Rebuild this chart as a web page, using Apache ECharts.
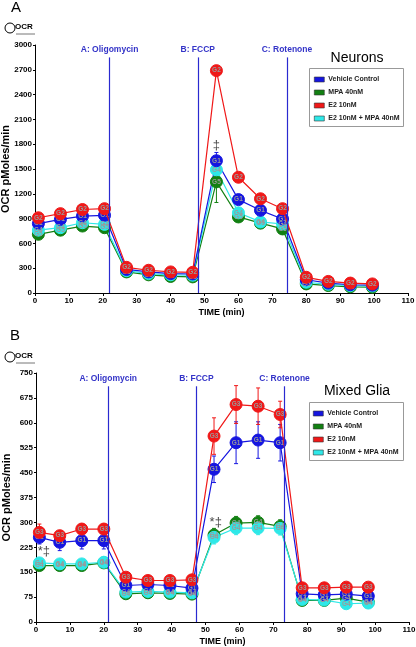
<!DOCTYPE html>
<html><head><meta charset="utf-8">
<script src="https://cdn.jsdelivr.net/npm/echarts@6/dist/echarts.min.js"></script>
<style>html,body{margin:0;padding:0;background:#fff}#c{width:416px;height:647px}</style>
</head><body><div id="c"></div>
<script>
// ---------- DATA ----------
const seriesNames = ['Vehicle Control', 'MPA 40nM', 'E2 10nM', 'E2 10nM + MPA 40nM'];
const timeA = [1, 7.5, 14, 20.5, 27, 33.5, 40, 46.5, 53.5, 60, 66.5, 73, 80, 86.5, 93, 99.5];
const timeB = [1, 7, 13.5, 20, 26.5, 33, 39.5, 46, 52.5, 59, 65.5, 72, 78.5, 85, 91.5, 98];

// Panel A (Neurons)
const vehA = [840, 890, 930, 940, 285, 255, 235, 230, 1600, 1130, 1000, 895, 160, 120, 100, 95];
const mpaA = [710, 760, 810, 790, 255, 220, 200, 195, 1345, 920, 845, 775, 110, 90, 75, 70];
const e2A = [910, 960, 1010, 1020, 310, 275, 255, 250, 2690, 1400, 1140, 1020, 190, 140, 120, 110];
const e2mpaA = [760, 790, 850, 830, 270, 235, 220, 215, 1490, 970, 860, 835, 130, 105, 90, 85];
const vehAErr = [40, 40, 30, 30, 20, 20, 20, 20, 100, 50, 40, 40, 15, 15, 15, 15];
const mpaAErr = [30, 30, 30, 30, 20, 20, 20, 20, 250, 40, 40, 60, 15, 15, 15, 15];
const e2AErr = [40, 40, 30, 30, 20, 20, 20, 20, 60, 40, 40, 30, 15, 15, 15, 15];
const e2mpaAErr = [30, 30, 30, 30, 20, 20, 20, 20, 80, 40, 40, 30, 15, 15, 15, 15];

// Panel B (Mixed Glia)
const vehB = [255, 240, 245, 245, 110, 113, 110, 102, 460, 540, 548, 540, 85, 82, 84, 78];
const mpaB = [170, 170, 170, 178, 85, 88, 86, 84, 262, 298, 300, 288, 65, 65, 72, 60];
const e2B = [270, 260, 280, 280, 135, 125, 125, 127, 560, 655, 650, 625, 103, 103, 105, 105];
const e2mpaB = [178, 175, 175, 180, 90, 92, 90, 88, 255, 283, 283, 282, 68, 66, 55, 57];
const vehBErr = [20, 25, 25, 25, 10, 10, 10, 10, 40, 63, 55, 55, 10, 10, 10, 10];
const mpaBErr = [10, 10, 10, 10, 8, 8, 8, 8, 20, 20, 20, 20, 8, 8, 8, 8];
const e2BErr = [25, 15, 15, 15, 10, 8, 8, 8, 55, 57, 55, 40, 8, 8, 8, 8];
const e2mpaBErr = [12, 12, 12, 12, 8, 8, 8, 8, 20, 20, 20, 20, 8, 8, 8, 8];

// Injection times
const injTimesA = [22, 48, 74.3];
const injTimesB = [21.3, 47.3, 73.3];
const injLabels = ['A: Oligomycin', 'B: FCCP', 'C: Rotenone'];

const xTicks = [0, 10, 20, 30, 40, 50, 60, 70, 80, 90, 100, 110];
const yTicksA = [0, 300, 600, 900, 1200, 1500, 1800, 2100, 2400, 2700, 3000];
const yTicksB = [0, 75, 150, 225, 300, 375, 450, 525, 600, 675, 750];

const annA = [[53.5, 1790, '‡']];
const annB = [[2.3, 212, '*‡'], [53, 300, '*‡']];

// ---------- STYLE ----------
const colors = ['#1515e0', '#128012', '#f01818', '#2ee8e8'];
const markerLabelA = ['G1', 'G5', 'G2', 'G4'];
const markerLabelB = ['G1', 'G4', 'G3', 'G4'];
const FONT = '"Liberation Sans", Arial, sans-serif';

const chart = echarts.init(document.getElementById('c'), null, {renderer: 'canvas'});

function lineSeries(name, times, vals, idx, panel, label) {
  return {
    type: 'line', name: name, xAxisIndex: panel, yAxisIndex: panel,
    data: times.map((t, i) => [t, vals[i]]),
    symbol: 'circle', symbolSize: 12,
    lineStyle: {color: colors[idx], width: 1.2},
    itemStyle: {color: colors[idx], borderColor: colors[idx], borderWidth: 1},
    label: {show: true, position: 'inside', formatter: label, fontSize: 6.5, color: '#9a9a9a', fontFamily: FONT, fontWeight: 'bold'},
    z: 3 + (idx === 2 ? 1 : 0),
    animation: false
  };
}
function errSeries(times, vals, errs, idx, panel) {
  return {
    type: 'custom', xAxisIndex: panel, yAxisIndex: panel, silent: true,
    data: times.map((t, i) => [t, vals[i] - errs[i], vals[i] + errs[i]]),
    renderItem: function (params, api) {
      const lo = api.coord([api.value(0), api.value(1)]);
      const hi = api.coord([api.value(0), api.value(2)]);
      const st = {stroke: colors[idx], lineWidth: 1};
      return {type: 'group', children: [
        {type: 'line', shape: {x1: lo[0], y1: lo[1], x2: hi[0], y2: hi[1]}, style: st},
        {type: 'line', shape: {x1: lo[0] - 2, y1: lo[1], x2: lo[0] + 2, y2: lo[1]}, style: st},
        {type: 'line', shape: {x1: hi[0] - 2, y1: hi[1], x2: hi[0] + 2, y2: hi[1]}, style: st}
      ]};
    },
    z: 2, animation: false
  };
}
function injSeries(panel, times, top) {
  return {
    type: 'line', xAxisIndex: panel, yAxisIndex: panel, data: [], silent: true, animation: false,
    markLine: {
      symbol: 'none', silent: true, animation: false,
      lineStyle: {color: '#2a2ad0', width: 1.2, type: 'solid'},
      label: {show: true, position: 'end', color: '#3434c8', fontSize: 8.5, fontWeight: 'bold', fontFamily: FONT, distance: 3},
      data: times.map((t, i) => [
        {coord: [t, 0], name: injLabels[i], label: {formatter: injLabels[i]}},
        {coord: [t, top]}
      ])
    }
  };
}
function annSeries(panel, ann) {
  return {
    type: 'scatter', xAxisIndex: panel, yAxisIndex: panel, symbolSize: 0, silent: true, animation: false,
    data: ann.map(a => ({value: [a[0], a[1]], label: {formatter: a[2]}})),
    label: {show: true, position: 'inside', color: '#111', fontSize: 13, fontFamily: FONT},
    z: 6
  };
}

const axisLabelStyle = {color: '#000', fontSize: 8, fontWeight: 'bold', fontFamily: FONT};
function xAx(grid) {
  return {type: 'value', gridIndex: grid, min: 0, max: 110, interval: 10,
    name: 'TIME (min)', nameLocation: 'middle', nameGap: 15, nameMoveOverlap: false,
    nameTextStyle: {color: '#000', fontSize: 9, fontWeight: 'bold', fontFamily: FONT},
    axisLine: {show: true, lineStyle: {color: '#000', width: 1}},
    axisTick: {show: true, length: 3, lineStyle: {color: '#000'}},
    axisLabel: Object.assign({margin: 4, formatter: v => String(v)}, axisLabelStyle),
    splitLine: {show: false}};
}
function yAx(grid, max, interval) {
  return {type: 'value', gridIndex: grid, min: 0, max: max, interval: interval,
    name: 'OCR pMoles/min', nameLocation: 'middle', nameGap: 24, nameMoveOverlap: false,
    nameTextStyle: {color: '#000', fontSize: 11, fontWeight: 'bold', fontFamily: FONT},
    axisLine: {show: true, lineStyle: {color: '#000', width: 1}},
    axisTick: {show: true, length: 2, lineStyle: {color: '#000'}},
    axisLabel: Object.assign({margin: 3, formatter: v => String(v)}, axisLabelStyle),
    splitLine: {show: false}};
}

const series = [];
const dataA = [vehA, mpaA, e2A, e2mpaA], errA = [vehAErr, mpaAErr, e2AErr, e2mpaAErr];
const dataB = [vehB, mpaB, e2B, e2mpaB], errB = [vehBErr, mpaBErr, e2BErr, e2mpaBErr];
series.push(injSeries(0, injTimesA, 2850));
series.push(injSeries(1, injTimesB, 710));
[0, 1, 2, 3].forEach(i => series.push(errSeries(timeA, dataA[i], errA[i], i, 0)));
[0, 1, 2, 3].forEach(i => series.push(errSeries(timeB, dataB[i], errB[i], i, 1)));
[1, 3, 0, 2].forEach(i => series.push(lineSeries(seriesNames[i], timeA, dataA[i], i, 0, markerLabelA[i])));
[1, 3, 0, 2].forEach(i => series.push(lineSeries(seriesNames[i], timeB, dataB[i], i, 1, markerLabelB[i])));
series.push(annSeries(0, annA));
series.push(annSeries(1, annB));

const legendStyle = {
  orient: 'vertical', data: seriesNames.map((n, i) => ({name: n, itemStyle: {color: colors[i], borderColor: '#333', borderWidth: 0.6}})),
  icon: 'rect', itemWidth: 10, itemHeight: 5, itemGap: 6, padding: 0,
  textStyle: {color: '#222', fontSize: 7, fontWeight: 'bold', fontFamily: FONT, padding: [0, 0, 0, -1]},
  selectedMode: false
};

function ocrGraphic(y) {
  return [
    {type: 'circle', shape: {cx: 10, cy: y, r: 5}, style: {fill: 'none', stroke: '#000', lineWidth: 1}},
    {type: 'text', x: 15, y: y - 5, style: {text: 'OCR', fill: '#000', font: 'bold 8px ' + FONT}},
    {type: 'line', shape: {x1: 16, y1: y + 6, x2: 35, y2: y + 6}, style: {stroke: '#777', lineWidth: 1}}
  ];
}

chart.setOption({
  backgroundColor: '#fff',
  animation: false,
  grid: [
    {left: 35, right: 8, top: 45, height: 248, containLabel: false, outerBoundsMode: 'none'},
    {left: 36, right: 7, top: 373, height: 249, containLabel: false, outerBoundsMode: 'none'}
  ],
  xAxis: [xAx(0), xAx(1)],
  yAxis: [yAx(0, 3000, 300), yAx(1, 750, 75)],
  legend: [
    Object.assign({left: 314, top: 76}, legendStyle),
    Object.assign({left: 313, top: 410}, legendStyle)
  ],
  graphic: [
    {type: 'text', x: 11, y: 0, style: {text: 'A', fill: '#000', font: '15px ' + FONT}},
    {type: 'text', x: 10, y: 328, style: {text: 'B', fill: '#000', font: '15px ' + FONT}},
    ...ocrGraphic(28),
    ...ocrGraphic(357),
    {type: 'text', x: 357, y: 58, style: {text: 'Neurons', fill: '#000', font: '14px ' + FONT, textAlign: 'center', textVerticalAlign: 'middle'}},
    {type: 'text', x: 357, y: 391, style: {text: 'Mixed Glia', fill: '#000', font: '14px ' + FONT, textAlign: 'center', textVerticalAlign: 'middle'}},
    {type: 'rect', shape: {x: 309.5, y: 68.5, width: 94, height: 58}, style: {fill: 'none', stroke: '#999', lineWidth: 1}, z: -1},
    {type: 'rect', shape: {x: 309.5, y: 402.5, width: 94, height: 58}, style: {fill: 'none', stroke: '#999', lineWidth: 1}, z: -1}
  ],
  series: series
});
</script></body></html>
